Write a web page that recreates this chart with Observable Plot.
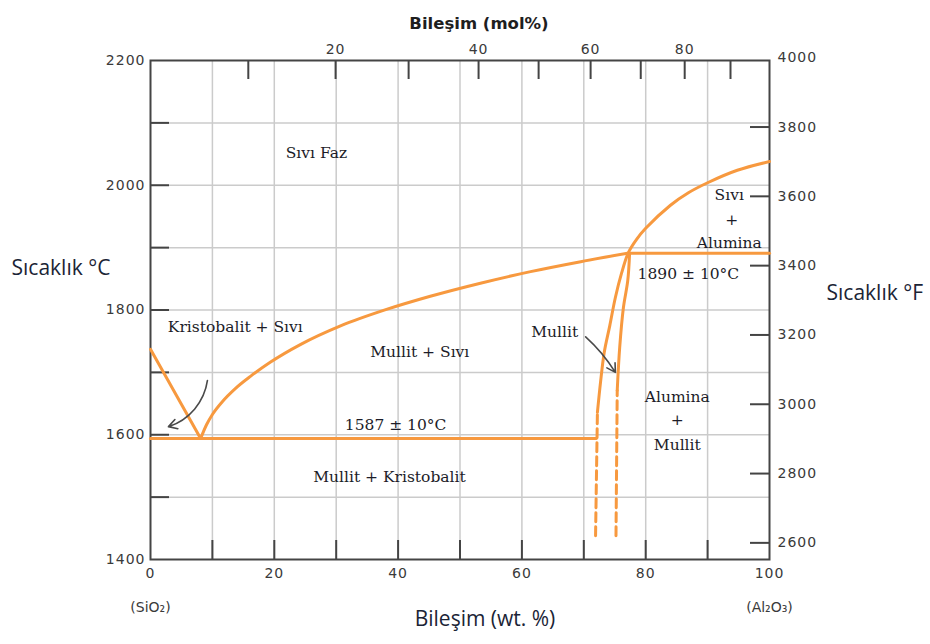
<!DOCTYPE html>
<html><head><meta charset="utf-8">
<script src="https://cdn.jsdelivr.net/npm/d3@7"></script>
<script src="https://cdn.jsdelivr.net/npm/@observablehq/plot@0.6"></script>
<style>
html,body{margin:0;padding:0;background:#fff;}
#chart svg{display:block;}
[aria-label$="tick label"]{letter-spacing:1px;}
</style></head><body><div id="chart"></div>
<script>
// ---- data (wt.% Al2O3, °C) ----
const cristLiqWt = [0, 8.1];
const cristLiqT  = [1737, 1594];
const mulliteLiqWt = [8.1, 9.05, 10.0, 11.6, 13.7, 16.2, 19.4, 24.2, 30.7, 38.0, 45.2, 53.3, 61.4, 69.5, 77.1];
const mulliteLiqT  = [1594, 1616, 1632.5, 1653, 1674, 1694, 1716.5, 1744.5, 1774.5, 1800.5, 1822, 1843, 1861.5, 1877.5, 1891];
const eutecticWt = [0, 72.0];
const eutecticT  = [1594, 1594];
const peritecticWt = [77.2, 100];
const peritecticT  = [1891, 1891];
const mulliteLeftWt = [72.2, 72.7, 73.3, 74.2, 75.1, 76.1, 77.2, 78.5, 80.0, 84.0, 86.9, 90.0, 94.8, 100];
const mulliteLeftT  = [1636, 1684, 1732, 1775, 1820, 1859, 1892, 1913, 1931, 1968, 1988, 2004, 2024, 2038];
const mulliteLeftDashWt = [71.9, 72.2];
const mulliteLeftDashT  = [1438, 1636];
const mulliteRightWt = [75.4, 75.8, 76.4, 77.1, 77.4];
const mulliteRightT  = [1671, 1740, 1804, 1847, 1891];
const mulliteRightDashWt = [75.2, 75.4];
const mulliteRightDashT  = [1438, 1671];

// phase labels
const labelText = ["Sıvı Faz", "Kristobalit + Sıvı", "Mullit + Sıvı", "1587 ± 10°C", "Mullit + Kristobalit",
  "1890 ± 10°C", "Sıvı", "+", "Alumina", "Alumina", "+", "Mullit"];
const labelWt = [26.8, 13.7, 43.5, 39.6, 38.6, 86.9, 93.5, 93.9, 93.5, 85.1, 85.1, 85.1];
const labelT  = [2051, 1773, 1732, 1615, 1533, 1858, 1984, 1945, 1907, 1660, 1623, 1583];
const boxedText = ["Mullit"];
const boxedWt = [65.3];
const boxedT  = [1765];

// arrows: [start wt, start T, end wt, end T]
const arrowCristo = [9.2, 1687, 2.9, 1613];
const arrowMullite = [70.3, 1757, 75.1, 1700];

// axes
const bottomLabels = [0, 20, 40, 60, 80, 100];
const bottomTicks = [10, 20, 30, 40, 50, 60, 70, 80, 90];
const leftLabels = [1400, 1600, 1800, 2000, 2200];
const leftTicks = [1500, 1600, 1700, 1800, 1900, 2000, 2100];
const gridWt = [10, 20, 30, 40, 50, 60, 70, 80, 90];
const gridT = [1500, 1600, 1700, 1800, 1900, 2000, 2100];
const molTickLabels = [10, 20, 30, 40, 50, 60, 70, 80, 90];
const molTickWt = [15.8, 29.9, 41.7, 53.0, 62.7, 71.1, 79.2, 86.3, 93.7];
const molShown = [20, 40, 60, 80];
const fahrLabels = [2600, 2800, 3000, 3200, 3400, 3600, 3800, 4000];
const fahrTicks = [2600, 2800, 3000, 3200, 3400, 3600, 3800];
const endLabels = ["(SiO₂)", "(Al₂O₃)"];
const endWt = [0, 100];

// ---- build ----
const zip = (xs, ys) => xs.map((x, i) => ({x, y: ys[i]}));
const W = 930, H = 644, mL = 150, mR = 161, mT = 60, mB = 85;
const pxPerWt = (W - mL - mR) / 100, pxPerC = (H - mT - mB) / 800;
const tick = 19;
const fToC = f => (f - 32) * 5 / 9;
const orange = "#f7993f";
const serif = "DejaVu Serif";
const base = {x: "x", y: "y", stroke: orange, strokeWidth: 3};
const arrowMark = (a, bend) => Plot.arrow([a], {x1: d => d[0], y1: d => d[1], x2: d => d[2], y2: d => d[3],
  bend, stroke: "#4a4a4a", strokeWidth: 1.6, headLength: 9});

const molTicksShown = molTickLabels.map((m, i) => ({m, w: molTickWt[i]})).filter(d => molShown.includes(d.m));

const chart = Plot.plot({
  width: W, height: H,
  marginLeft: mL, marginRight: mR, marginTop: mT, marginBottom: mB,
  x: {domain: [0, 100], axis: null},
  y: {domain: [1400, 2200], axis: null},
  style: {fontFamily: "DejaVu Sans", background: "white", overflow: "visible"},
  marks: [
    Plot.ruleX(gridWt, {stroke: "#cbcbcb", strokeWidth: 1.5}),
    Plot.ruleY(gridT, {stroke: "#cbcbcb", strokeWidth: 1.5}),
    // ticks (inward)
    Plot.ruleY(leftTicks, {x1: 0, x2: tick / pxPerWt, stroke: "#444", strokeWidth: 2}),
    Plot.ruleX(bottomTicks, {y1: 1400, y2: 1400 + tick / pxPerC, stroke: "#444", strokeWidth: 2}),
    Plot.ruleX(molTickWt, {y1: 2200 - tick / pxPerC, y2: 2200, stroke: "#444", strokeWidth: 2}),
    Plot.ruleY(fahrTicks.map(fToC), {x1: 100 - tick / pxPerWt, x2: 100, stroke: "#444", strokeWidth: 2}),
    Plot.frame({stroke: "#444", strokeWidth: 2}),
    // tick labels
    Plot.axisX(bottomLabels, {anchor: "bottom", tickSize: 0, tickPadding: 9, fontSize: 14, fill: "#3a3a3a", label: null, tickFormat: d => String(d)}),
    Plot.axisY(leftLabels, {anchor: "left", tickSize: 0, tickPadding: 5, fontSize: 14, fill: "#3a3a3a", label: null, tickFormat: d => String(d)}),
    Plot.axisX(molTicksShown.map(d => d.w), {anchor: "top", tickSize: 0, tickPadding: 7, fontSize: 14, fill: "#3a3a3a", label: null,
      tickFormat: w => String(molTicksShown.find(d => d.w === w).m)}),
    Plot.axisY(fahrLabels.map(fToC), {anchor: "right", tickSize: 0, tickPadding: 8, fontSize: 14, fill: "#3a3a3a", label: null,
      tickFormat: c => String(Math.round(c * 9 / 5 + 32))}),
    Plot.text(endLabels, {x: (d, i) => endWt[i], y: () => 1400, dy: 48, fontSize: 14, fill: "#3a3a3a"}),
    // axis titles
    Plot.text(["Bileşim (mol%)"], {frameAnchor: "top", dx: 19, dy: -43, fontWeight: "bold", fontSize: 16.5, fill: "#1e1e1e"}),
    Plot.text(["Bileşim (wt. %)"], {frameAnchor: "bottom", dx: 25, dy: 66, fontFamily: "Open Sans", fontSize: 21, fill: "#1b2436"}),
    Plot.text(["Sıcaklık °C"], {frameAnchor: "left", textAnchor: "start", dx: -139, dy: -42, fontFamily: "Open Sans", fontSize: 21, fill: "#1b2436"}),
    Plot.text(["Sıcaklık °F"], {frameAnchor: "right", textAnchor: "start", dx: 57, dy: -17, fontFamily: "Open Sans", fontSize: 21, fill: "#1b2436"}),
    // phase boundaries
    Plot.line(zip(cristLiqWt, cristLiqT), base),
    Plot.line(zip(mulliteLiqWt, mulliteLiqT), {...base, curve: "monotone-x"}),
    Plot.line(zip(eutecticWt, eutecticT), base),
    Plot.line(zip(peritecticWt, peritecticT), base),
    Plot.line(zip(mulliteLeftWt, mulliteLeftT), {...base, curve: "catmull-rom"}),
    Plot.line(zip(mulliteLeftDashWt, mulliteLeftDashT), {...base, strokeDasharray: "9,5"}),
    Plot.line(zip(mulliteRightWt, mulliteRightT), {...base, curve: "catmull-rom"}),
    Plot.line(zip(mulliteRightDashWt, mulliteRightDashT), {...base, strokeDasharray: "9,5"}),
    // arrows
    arrowMark(arrowCristo, 32),
    arrowMark(arrowMullite, 8),
    // labels
    Plot.text(labelText, {x: (d, i) => labelWt[i], y: (d, i) => labelT[i], fontFamily: serif, fontSize: 15.5, fill: "#1c1c28"}),
    Plot.text(boxedText, {x: (d, i) => boxedWt[i], y: (d, i) => boxedT[i], fontFamily: serif, fontSize: 15.5, fill: "#1c1c28",
      stroke: "white", strokeWidth: 8, paintOrder: "stroke"})
  ]
});
document.getElementById("chart").appendChild(chart);
</script></body></html>
